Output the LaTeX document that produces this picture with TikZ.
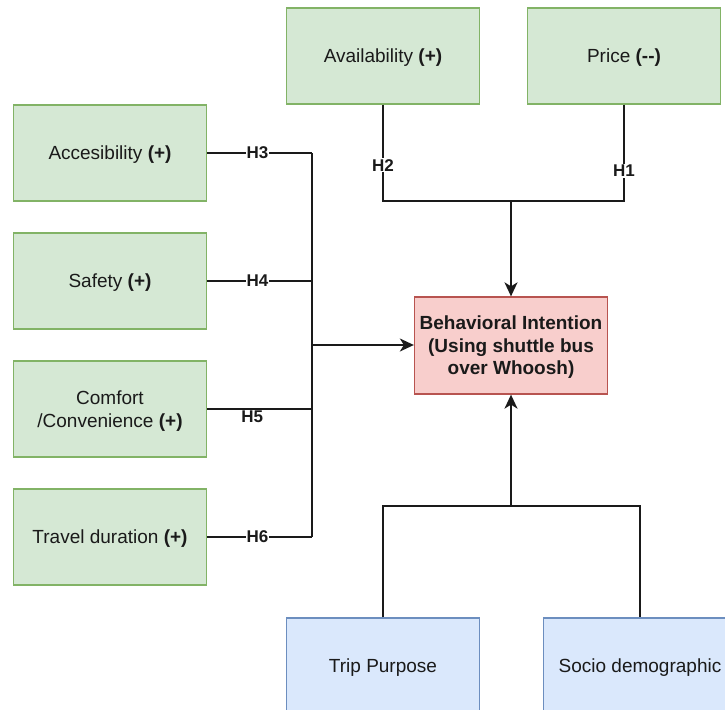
\documentclass[tikz,border=0pt]{standalone}
\usepackage{fontspec}
\setmainfont{Liberation Sans}
\usetikzlibrary{arrows.meta}
\definecolor{gfill}{HTML}{D5E8D4}
\definecolor{gdraw}{HTML}{82B366}
\definecolor{rfill}{HTML}{F8CECC}
\definecolor{rdraw}{HTML}{B85450}
\definecolor{bfill}{HTML}{DAE8FC}
\definecolor{bdraw}{HTML}{6C8EBF}
\definecolor{ink}{HTML}{1A1A1A}
\tikzset{
  box/.style={draw, line width=1.3pt, minimum width=193pt, minimum height=96pt, inner sep=0pt,
    align=center, text=ink, text depth=0pt, font=\fontsize{19}{22.8}\selectfont},
  gbox/.style={box, fill=gfill, draw=gdraw},
  rbox/.style={box, fill=rfill, draw=rdraw, font=\fontsize{19}{22.4}\selectfont\bfseries},
  bbox/.style={box, fill=bfill, draw=bdraw},
  conn/.style={draw=ink, line width=1.8pt},
  arr/.style={conn, -{Stealth[length=14pt,width=13pt,inset=4pt]}},
  lbl/.style={fill=white, inner sep=1pt, text=ink, font=\fontsize{17}{20}\selectfont\bfseries}
}
\begin{document}
\begin{tikzpicture}[x=1pt,y=-1pt]
\clip (0,0) rectangle (725,709);
\fill[white] (0,0) rectangle (725,709);
% nodes
\node[gbox] (avail) at (383,56) {Availability \textbf{(+)}};
\node[gbox] (price) at (624,56) {Price \textbf{(-{}-)}};
\node[gbox] (acc) at (110,153) {Accesibility \textbf{(+)}};
\node[gbox] (saf) at (110,281) {Safety \textbf{(+)}};
\node[gbox] (com) at (110,409) {Comfort\\/Convenience \textbf{(+)}};
\node[gbox] (trav) at (110,537) {Travel duration \textbf{(+)}};
\node[rbox, minimum height=97pt] (bi) at (511,345.5) {Behavioral Intention\\(Using shuttle bus\\over Whoosh)};
\node[bbox] (trip) at (383,666) {Trip Purpose};
\node[bbox] (socio) at (640,666) {Socio demographic};
% junctions
\coordinate (jt) at (511,201);
\coordinate (jl) at (312,345);
\coordinate (jb) at (511,506);
% top connectors
\draw[conn] (avail.south) -- node[lbl,pos=0.63]{H2} (avail.south |- jt) -- (jt);
\draw[conn] (price.south) -- node[lbl,pos=0.69]{H1} (price.south |- jt) -- (jt);
\draw[arr] (jt) -- (bi.north);
% left connectors
\draw[conn] (acc.east) -- node[lbl,pos=0.48]{H3} (acc.east -| jl);
\draw[conn] (saf.east) -- node[lbl,pos=0.48]{H4} (saf.east -| jl);
\draw[conn] (com.east) -- node[lbl,pos=0.43,yshift=-8pt,fill=none]{H5} (com.east -| jl);
\draw[conn] (trav.east) -- node[lbl,pos=0.48]{H6} (trav.east -| jl);
\draw[conn] (acc.east -| jl) -- (trav.east -| jl);
\draw[arr] (jl) -- (jl -| bi.west);
% bottom connectors
\draw[conn] (trip.north) -- (trip.north |- jb) -- (socio.north |- jb) -- (socio.north);
\draw[arr] (jb) -- (bi.south);
\end{tikzpicture}
\end{document}
